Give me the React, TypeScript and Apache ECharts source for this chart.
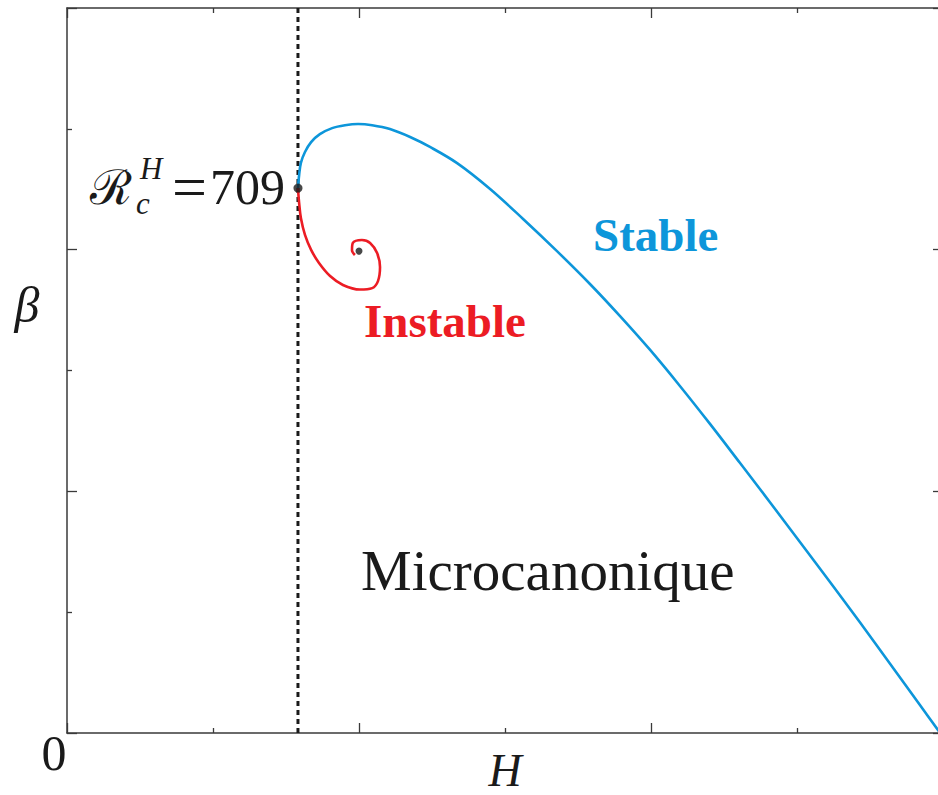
import React, { useEffect, useRef } from "react";
import * as echarts from "echarts";

// Axis ranges (arbitrary units, 0..3 in both directions)
const xRange = [0, 3];
const yRange = [0, 3];
const majorStep = 1;

// Critical value marked by the dashed vertical line
const criticalH = 0.791;
const criticalBeta = 2.255;

// Stable branch (blue)
const stableH = [0.791, 0.795, 0.801, 0.815, 0.836, 0.866, 0.908, 0.952, 0.997, 1.045, 1.106, 1.175, 1.243, 1.336, 1.449, 1.562, 1.678, 1.791, 1.894, 1.997, 2.099, 2.202, 2.305, 2.408, 2.51, 2.613, 2.716, 2.818, 2.921, 2.99];
const stableBeta = [2.255, 2.309, 2.359, 2.404, 2.445, 2.478, 2.503, 2.515, 2.52, 2.515, 2.499, 2.466, 2.425, 2.358, 2.251, 2.127, 1.994, 1.858, 1.725, 1.585, 1.436, 1.279, 1.117, 0.954, 0.79, 0.625, 0.457, 0.288, 0.116, 0.0];

// Unstable branch (red spiral)
const unstableH = [0.791, 0.795, 0.801, 0.815, 0.836, 0.863, 0.901, 0.945, 1.003, 1.045, 1.065, 1.072, 1.062, 1.038, 1.01, 0.979, 0.976, 0.986];
const unstableBeta = [2.255, 2.193, 2.131, 2.061, 1.999, 1.945, 1.891, 1.854, 1.835, 1.841, 1.87, 1.928, 1.986, 2.028, 2.04, 2.028, 1.998, 1.978];

// Spiral centre point
const centreH = 1.0;
const centreBeta = 1.994;

const BLUE = "#0d96da";
const RED = "#ec1c24";
const AXIS = "#3a3a3a";
const SERIF = "'Liberation Serif', 'DejaVu Serif', serif";

export default function App() {
  const ref = useRef<HTMLDivElement>(null);

  useEffect(() => {
    if (!ref.current) return;
    const chart = echarts.init(ref.current, undefined, { renderer: "svg" });

    const axisCommon = (extra: any) => ({
      type: "value",
      interval: majorStep,
      axisLine: { show: true, onZero: false, lineStyle: { color: AXIS, width: 1.5 } },
      axisTick: { show: true, inside: true, length: 10, lineStyle: { color: AXIS, width: 1.3 } },
      minorTick: { show: true, splitNumber: 2, length: 5, lineStyle: { color: AXIS, width: 1.3 } },
      axisLabel: { show: false },
      splitLine: { show: false },
      minorSplitLine: { show: false },
      ...extra,
    });

    const stableData = stableH.map((h, i) => [h, stableBeta[i]]);
    const unstableData = unstableH.map((h, i) => [h, unstableBeta[i]]);

    const txt = (text: string, x: number, y: number, size: number, opts: any = {}) => ({
      type: "text",
      x,
      y,
      silent: true,
      style: {
        text,
        fontFamily: SERIF,
        fontSize: size,
        fill: "#1a1a1a",
        align: "left",
        verticalAlign: "middle",
        ...opts,
      },
    });

    chart.setOption({
      animation: false,
      backgroundColor: "#ffffff",
      grid: { left: 67, top: 8, right: 0, bottom: 62, containLabel: false },
      xAxis: [
        axisCommon({ position: "bottom", min: xRange[0], max: xRange[1] }),
        axisCommon({ position: "top", min: xRange[0], max: xRange[1] }),
      ],
      yAxis: [
        axisCommon({ position: "left", min: yRange[0], max: yRange[1] }),
        axisCommon({ position: "right", min: yRange[0], max: yRange[1] }),
      ],
      series: [
        {
          type: "line",
          name: "critical",
          data: [
            [criticalH, yRange[0]],
            [criticalH, yRange[1]],
          ],
          symbol: "none",
          lineStyle: { color: "#1a1a1a", width: 3, type: [5, 4] },
          z: 1,
        },
        {
          type: "line",
          name: "Stable",
          data: stableData,
          smooth: 0.35,
          symbol: "none",
          lineStyle: { color: BLUE, width: 2.6 },
          z: 3,
        },
        {
          type: "line",
          name: "Instable",
          data: unstableData,
          smooth: 0.35,
          symbol: "none",
          lineStyle: { color: RED, width: 2.6 },
          z: 3,
        },
        {
          type: "scatter",
          data: [[criticalH, criticalBeta]],
          symbolSize: 9,
          itemStyle: { color: "#1a1a1a" },
          z: 5,
        },
        {
          type: "scatter",
          data: [[centreH, centreBeta]],
          symbolSize: 7,
          itemStyle: { color: "#1a1a1a" },
          z: 5,
        },
      ],
      graphic: [
        txt("ℛ", 90, 187, 48),
        txt("H", 140, 168, 31, { fontStyle: "italic" }),
        txt("c", 136, 203, 31, { fontStyle: "italic" }),
        txt("=", 172, 187, 62),
        txt("709", 210, 187, 50),
        txt("Stable", 593, 235, 47, { fill: BLUE, fontWeight: "bold" }),
        txt("Instable", 364, 321, 47, { fill: RED, fontWeight: "bold" }),
        txt("Microcanonique", 361, 570, 57),
        txt("0", 54, 753, 50, { align: "center" }),
        txt("H", 505, 770, 46, { align: "center", fontStyle: "italic" }),
        txt("β", 27, 305, 50, { align: "center", fontStyle: "italic" }),
      ],
    });

    return () => chart.dispose();
  }, []);

  return (
    <div style={{ position: "absolute", left: 0, top: 0, width: 938, height: 795, overflow: "hidden", background: "#fff" }}>
      <div ref={ref} style={{ width: 943, height: 795 }} />
    </div>
  );
}
